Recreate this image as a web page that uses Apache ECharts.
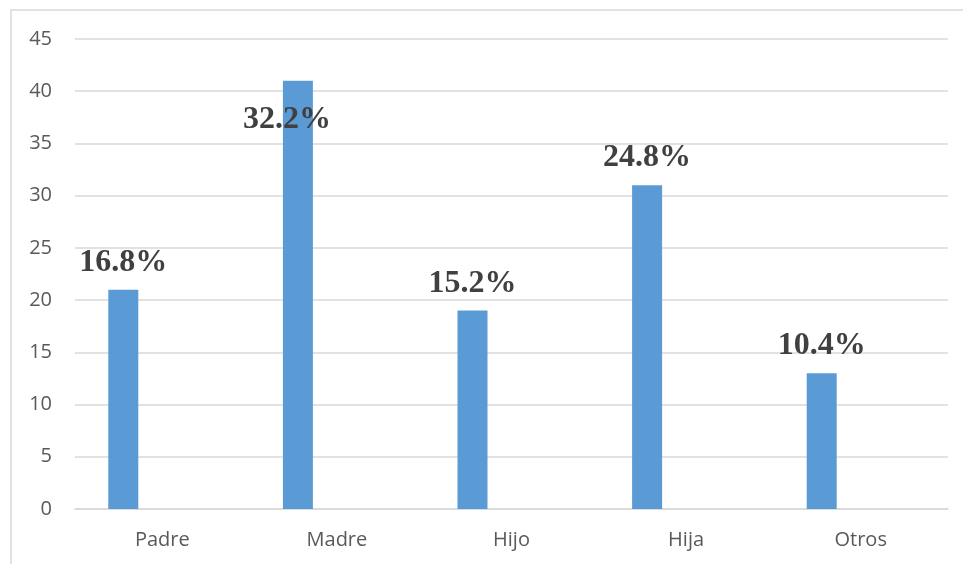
<!DOCTYPE html>
<html>
<head>
<meta charset="utf-8">
<script src="https://cdn.jsdelivr.net/npm/echarts@6/dist/echarts.min.js"></script>
<style>
html,body{margin:0;padding:0;background:#fff;}
#chart{width:963px;height:564px;}
</style>
</head>
<body>
<div id="chart"></div>
<script>
const categories = ['Padre', 'Madre', 'Hijo', 'Hija', 'Otros'];
const values = [21, 41, 19, 31, 13];
const percentLabels = ['16.8%', '32.2%', '15.2%', '24.8%', '10.4%'];
const yTicks = { min: 0, max: 45, interval: 5 };

const chart = echarts.init(document.getElementById('chart'), null, { renderer: 'canvas' });

const labelBase = {
  show: true,
  position: 'top',
  distance: 11,
  fontFamily: '"Liberation Serif", "Times New Roman", serif',
  fontWeight: 'bold',
  fontSize: 32,
  lineHeight: 32,
  color: '#404040'
};

const barData = values.map((v, i) => {
  const item = { value: v, label: Object.assign({}, labelBase, { formatter: percentLabels[i] }) };
  if (i === 1) {
    // label drawn overlapping the top of the tallest bar, as in the reference
    item.label.offset = [-11, 66];
  }
  return item;
});

chart.setOption({
  animation: false,
  backgroundColor: '#ffffff',
  graphic: [{
    type: 'rect',
    shape: { x: 11, y: 10, width: 1200, height: 1200 },
    style: { fill: 'none', stroke: '#d9d9d9', lineWidth: 1.5 },
    silent: true,
    z: -10
  }],
  grid: { left: 75, right: 15, top: 39, bottom: 55, containLabel: false },
  xAxis: {
    type: 'category',
    data: categories,
    axisLine: { show: true, lineStyle: { color: '#d9d9d9', width: 1.5 } },
    axisTick: { show: false },
    axisLabel: {
      margin: 21,
      fontFamily: '"Open Sans", sans-serif',
      fontSize: 20,
      color: '#595959'
    }
  },
  yAxis: {
    type: 'value',
    min: yTicks.min,
    max: yTicks.max,
    interval: yTicks.interval,
    axisLine: { show: false },
    axisTick: { show: false },
    splitLine: { lineStyle: { color: '#d9d9d9', width: 1.5 } },
    axisLabel: {
      margin: 23,
      fontFamily: '"Open Sans", sans-serif',
      fontSize: 20,
      color: '#595959'
    }
  },
  series: [
    {
      type: 'bar',
      data: barData,
      barWidth: 30,
      barGap: '160%',
      itemStyle: { color: '#5b9bd5' }
    },
    {
      type: 'bar',
      data: categories.map(() => null),
      barWidth: 30,
      barGap: '160%',
      itemStyle: { color: '#ed7d31' }
    }
  ]
});
</script>
</body>
</html>
